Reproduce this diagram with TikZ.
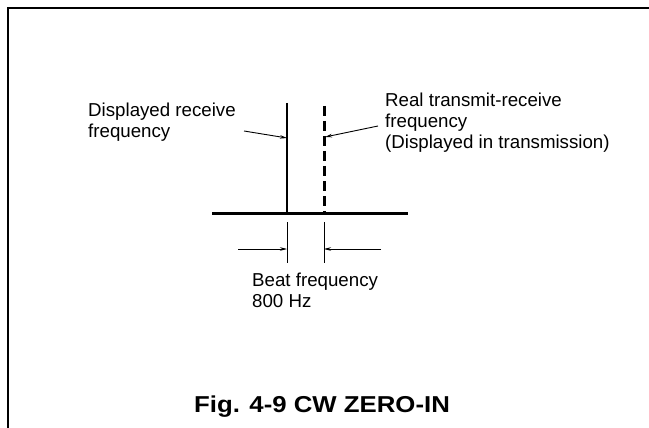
\documentclass[tikz,border=0pt]{standalone}
\usepackage{fontspec}
\setmainfont{Liberation Sans}
\usetikzlibrary{arrows.meta}
\tikzset{
  lbl/.style={inner sep=0pt, align=left, font=\fontsize{18.7}{21}\selectfont, anchor=north west},
  leader/.style={line width=0.9pt, -{Stealth[length=7pt,width=3.5pt]}},
  dimarrow/.style={line width=0.7pt, -{Stealth[length=7pt,width=3.5pt]}},
  extline/.style={line width=0.8pt},
}
\begin{document}
\begin{tikzpicture}[x=1pt,y=-1pt]
\useasboundingbox (0,0) rectangle (649,428);
% frame
\draw[line width=2pt] (8,428) -- (8,8) -- (649,8);
% coordinates
\coordinate (sT) at (287,103);
\coordinate (sB) at (287,213);
\coordinate (dT) at (324,106);
\coordinate (dB) at (324,213);
\coordinate (bL) at (212,213);
\coordinate (bR) at (408,213);
% base line
\draw[line width=3pt] (bL) -- (bR);
% solid line
\draw[line width=2.6pt] (sT) -- (sB);
% dashed line
\draw[line width=3pt, dash pattern=on 10pt off 5pt] (dT) -- (dB);
% extension lines
\coordinate (e1t) at (287,222);
\coordinate (e1b) at (287,263);
\coordinate (e2t) at (324,222);
\coordinate (e2b) at (324,263);
\draw[extline] (e1t) -- (e1b);
\draw[extline] (e2t) -- (e2b);
% dimension arrows
\coordinate (a1s) at (238,249);
\coordinate (a1e) at (287,249);
\coordinate (a2s) at (381,249);
\coordinate (a2e) at (324,249);
\draw[dimarrow] (a1s) -- (a1e);
\draw[dimarrow] (a2s) -- (a2e);
% labels
\node[lbl] (drf) at (88,103) {Displayed receive\\frequency};
\node[lbl] (rtr) at (385,93) {Real transmit-receive\\frequency\\(Displayed in transmission)};
\node[lbl] (beat) at (252,273) {Beat frequency\\800 Hz};
% leaders
\coordinate (l1s) at (244,131);
\coordinate (l1e) at (287,138);
\coordinate (l2s) at (378,126);
\coordinate (l2e) at (325,137);
\draw[leader] (l1s) -- (l1e);
\draw[leader] (l2s) -- (l2e);
% caption
\node[inner sep=0pt, font=\bfseries\fontsize{23}{26}\selectfont] (cap) at (322,407) {\scalebox{1.12}[1]{Fig. 4-9 CW ZERO-IN}};
\end{tikzpicture}
\end{document}
